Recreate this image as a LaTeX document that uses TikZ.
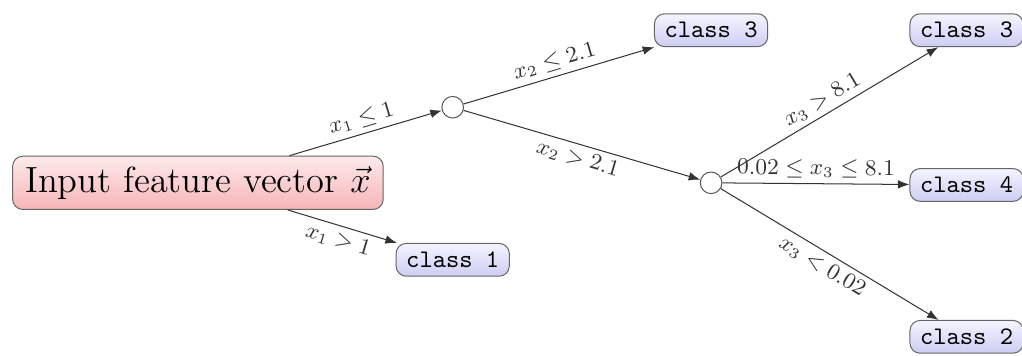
\documentclass[tikz,border=0pt]{standalone}
\usepackage{tikz}
\usetikzlibrary{arrows.meta}
\definecolor{rootlight}{HTML}{FDEAEA}
\definecolor{rootdark}{HTML}{F6B4B8}
\definecolor{leaflight}{HTML}{F4F4FE}
\definecolor{leafdark}{HTML}{CDCDF4}
\definecolor{edgegray}{HTML}{333333}
\tikzset{
    rootbox/.style={rectangle, rounded corners=4pt, draw=gray!80!black,
    top color=rootlight, bottom color=rootdark, font=\Large, inner xsep=5pt, inner ysep=4pt},
    leafbox/.style={rectangle, rounded corners=4pt, draw=gray!80!black,
    top color=leaflight, bottom color=leafdark, font=\ttfamily, inner xsep=4pt,
    minimum height=0.42cm},
    split/.style={circle, draw=gray!70!black, fill=white, minimum size=0.3cm, inner sep=0pt},
    arr/.style={-{Latex[length=1.6mm, width=1.2mm]}, edgegray, thin},
    lbl/.style={font=\small, sloped, inner sep=2pt},
}

\begin{document}
\begin{tikzpicture}[y=1cm, x=1cm]

        \useasboundingbox (0,0) rectangle (14.2,-4.945);

        \def\colA{2.75}
        \def\colB{6.29}
        \def\colC{9.88}
        \def\colD{13.43}

% root and first split
        \node[rootbox] (root)   at (\colA,-2.54) {Input feature vector $\vec{x}$};
        \node[split]   (split1) at (\colB,-1.49) {};
        \node[leafbox] (cls1)   at (\colB,-3.61) {class 1};

% second level
        \node[leafbox] (cls3a)  at (\colC,-0.42) {class 3};
        \node[split]   (split2) at (\colC,-2.54) {};

% leaves on the right
        \node[leafbox] (cls3b)  at (\colD,-0.42) {class 3};
        \node[leafbox] (cls4)   at (\colD,-2.57) {class 4};
        \node[leafbox] (cls2)   at (\colD,-4.68) {class 2};

% edges
        \draw[arr] (root) -- node[lbl, above] (e1) {$x_1 \leq 1$} (split1);
        \draw[arr] (root) -- node[lbl, below] (e2) {$x_1 > 1$} (cls1);
        \draw[arr] (split1) -- node[lbl, above] (e3) {$x_2 \leq 2.1$} (cls3a);
        \draw[arr] (split1) -- node[lbl, below] (e4) {$x_2 > 2.1$} (split2);
        \draw[arr] (split2) -- node[lbl, above] (e5) {$x_3 > 8.1$} (cls3b);
        \draw[arr] (split2) -- node[lbl, above] (e6) {$0.02 \leq x_3 \leq 8.1$} (cls4);
        \draw[arr] (split2) -- node[lbl, below] (e7) {$x_3 < 0.02$} (cls2);

\end{tikzpicture}
\end{document}
